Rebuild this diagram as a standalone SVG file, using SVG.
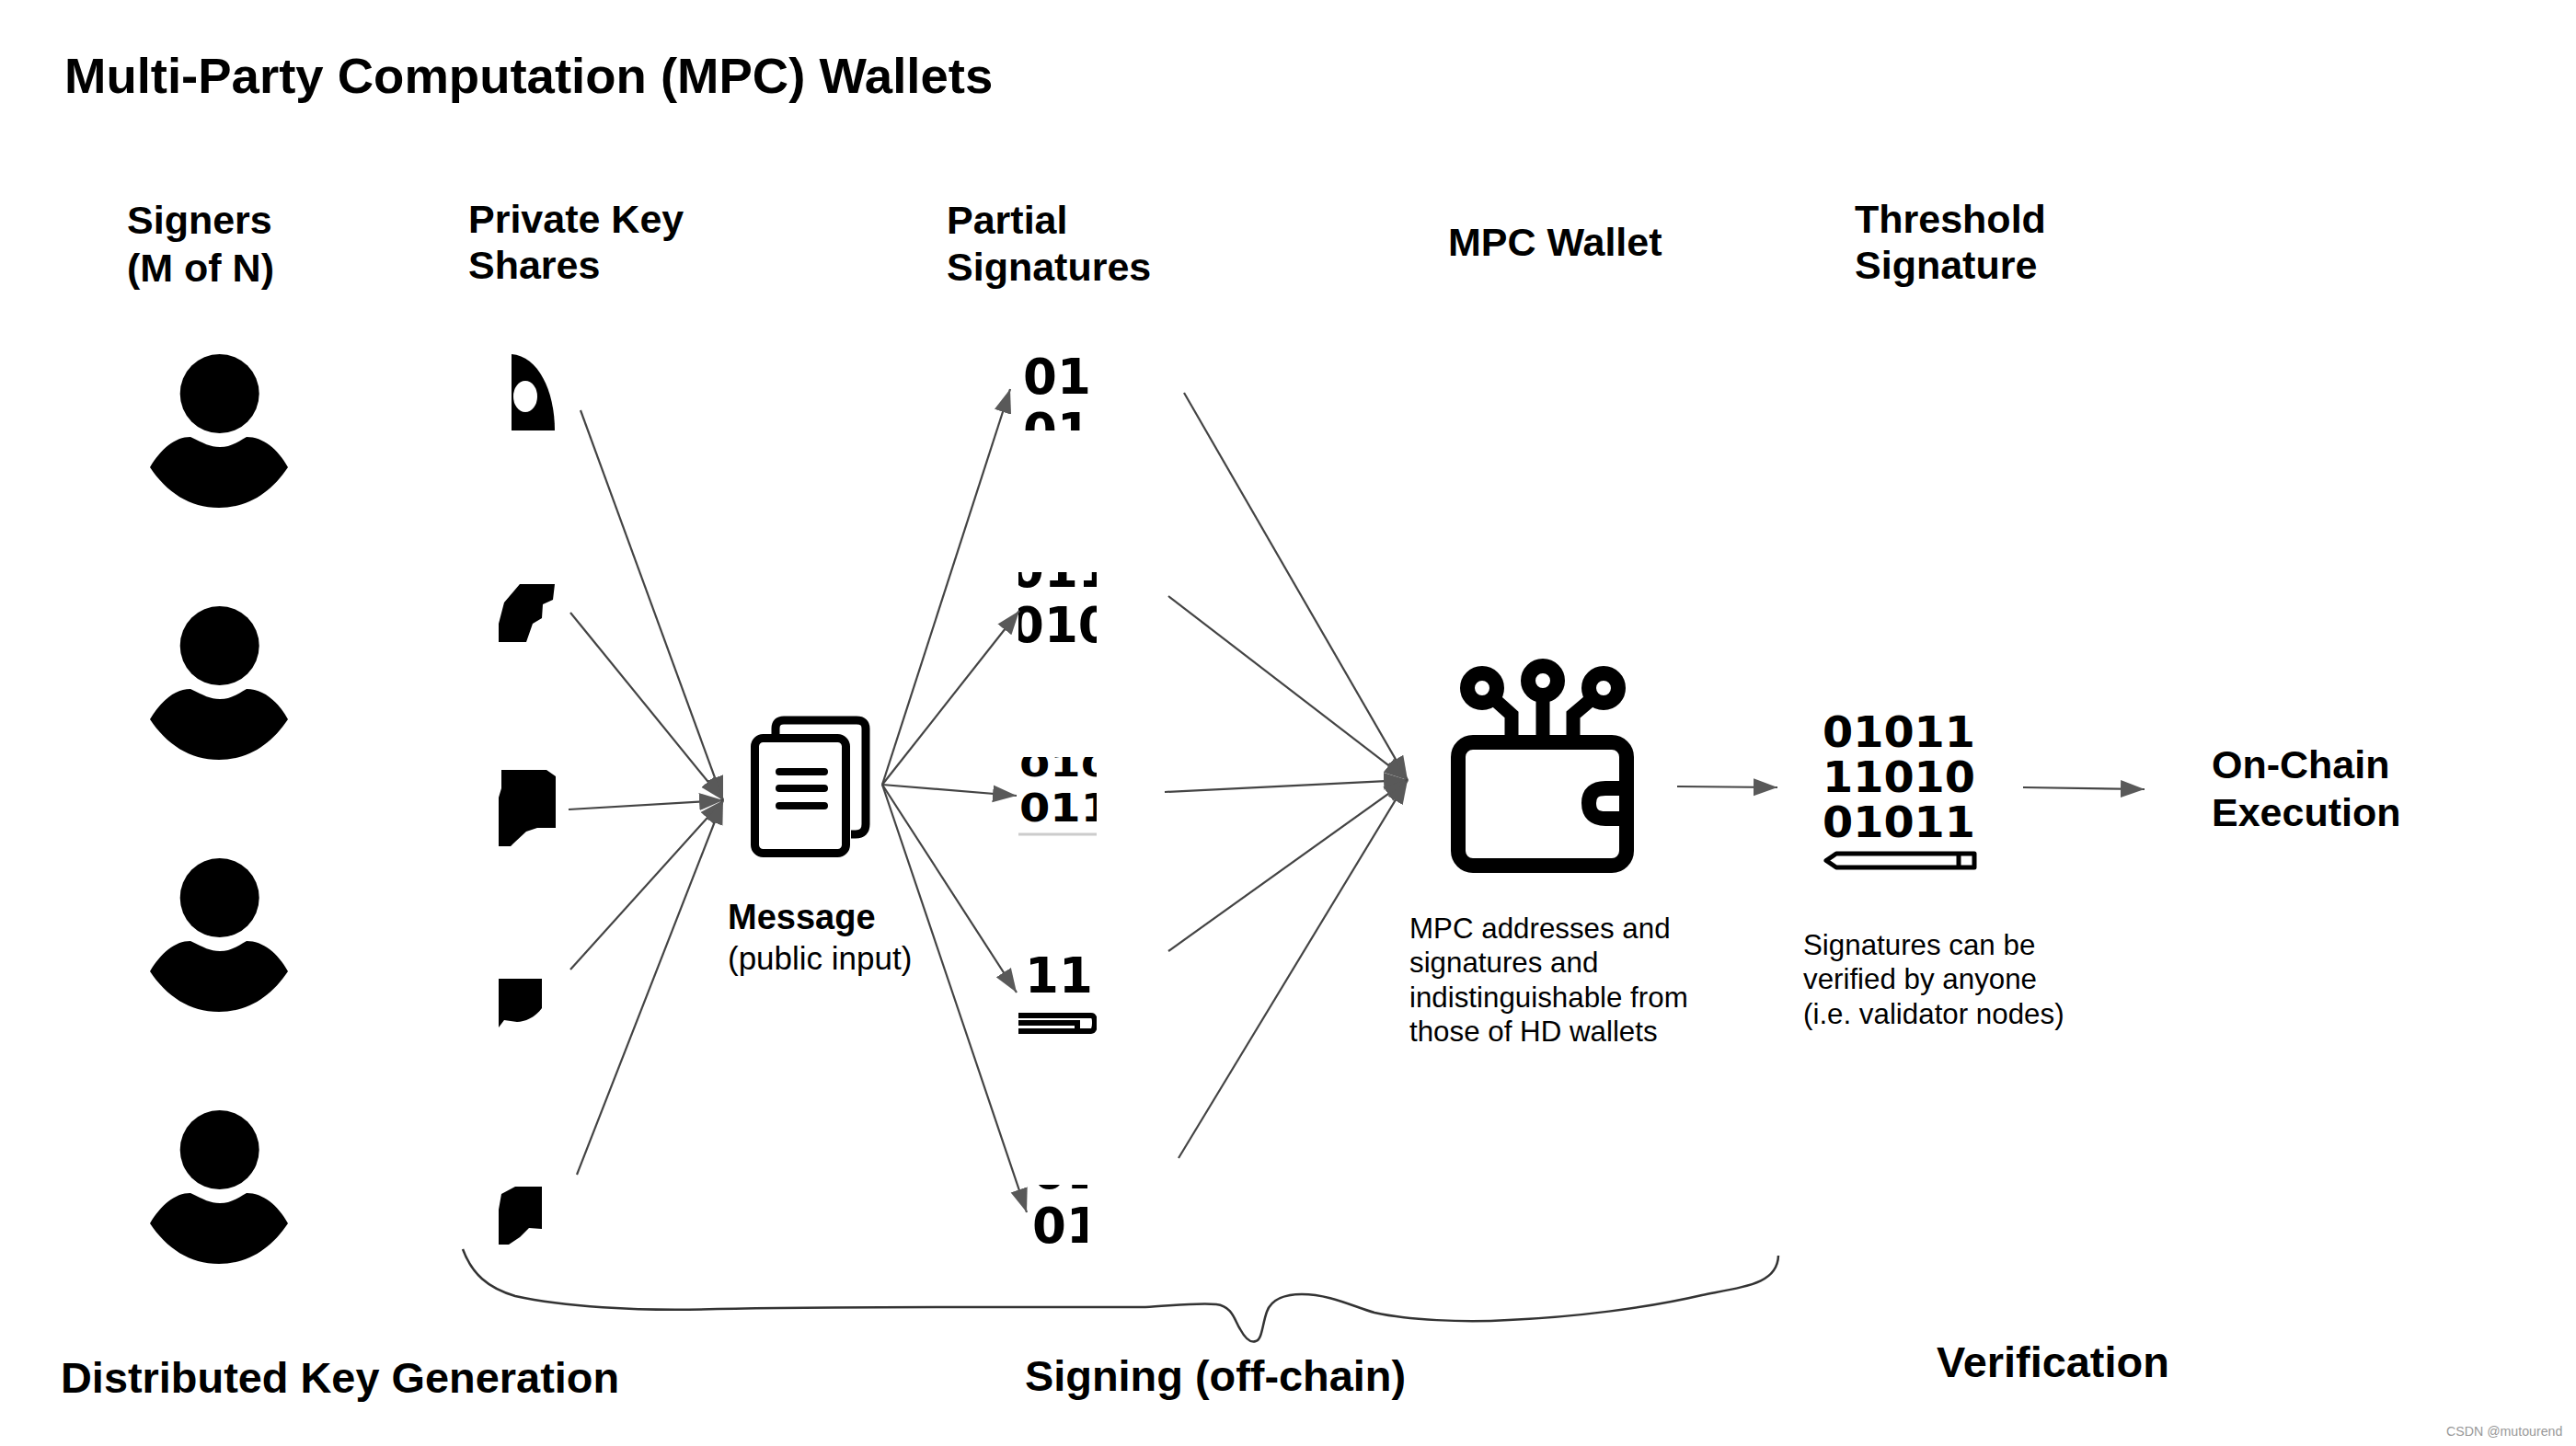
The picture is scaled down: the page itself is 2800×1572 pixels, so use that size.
<svg xmlns="http://www.w3.org/2000/svg" width="2800" height="1572" viewBox="0 0 2800 1572">
<style>
text{font-family:"Liberation Sans",Arial,sans-serif;fill:#000}
.t{font-size:54.500px;font-weight:700}
.h{font-size:43px;font-weight:700}
.f{font-size:46.900px;font-weight:700}
.b{font-size:31.300px}
.d{font-family:"DejaVu Sans",sans-serif;font-size:53px;font-weight:700}
.e{font-family:"DejaVu Sans",sans-serif;font-size:46px;font-weight:700}
.c{fill:none;stroke:#444;stroke-width:2.2;marker-end:url(#ah)}
.ic{fill:none;stroke:#000}
</style>
<defs>
<marker id="ah" markerUnits="userSpaceOnUse" markerWidth="28" markerHeight="20" refX="26" refY="10" orient="auto"><path d="M0,0.5 L26,10 L0,19.500 Z" fill="#595959"/></marker>
<clipPath id="c1"><rect x="1107" y="385" width="77" height="83"/></clipPath>
<clipPath id="c2"><rect x="1107" y="622" width="85" height="79"/></clipPath>
<clipPath id="c3"><rect x="1107" y="823" width="85" height="71"/></clipPath>
<clipPath id="c4"><rect x="1107" y="1040" width="85" height="85"/></clipPath>
<clipPath id="c5"><rect x="1122" y="1288" width="60" height="65"/></clipPath>
<g id="person"><circle cx="238.700" cy="428" r="43"/><path d="M163,508 C175,488 190,475 207,475 C222,482 228,486 239,486 C250,486 256,482 268,475 C286,475 302,488 313,508 C295,535 270,552 238,552 C206,552 181,535 163,508 Z"/></g>
</defs>
<rect width="2800" height="1572" fill="#fff"/>
<text class="t" x="70" y="101">Multi-Party Computation (MPC) Wallets</text>
<g id="headers">
<text class="h" x="138" y="254">Signers</text><text class="h" x="138" y="306">(M of N)</text>
<text class="h" x="509" y="253">Private Key</text><text class="h" x="509" y="303">Shares</text>
<text class="h" x="1029" y="254">Partial</text><text class="h" x="1029" y="305">Signatures</text>
<text class="h" x="1574" y="278">MPC Wallet</text>
<text class="h" x="2016" y="253">Threshold</text><text class="h" x="2016" y="303">Signature</text>
</g>
<g id="signer-1"><use href="#person"/></g>
<g id="signer-2"><use href="#person" y="274"/></g>
<g id="signer-3"><use href="#person" y="548"/></g>
<g id="signer-4"><use href="#person" y="822"/></g>
<g id="share-1"><path d="M556,385 C585,387 603,425 603,468 H556 Z"/><ellipse cx="571" cy="431" rx="13" ry="17" fill="#fff"/></g>
<g id="share-2"><path d="M542,698 H572 L579,678 L589,672 L590,657 L601,652 L603,635 H565 L548,655 L542,678 Z"/></g>
<g id="share-3"><path d="M545,837 H594 L604,844 V900 H584 L572,904 L558,917 L555,920 H542 V867 L545,857 Z"/></g>
<g id="share-4"><path d="M542,1064 H589 V1096 C582,1106 570,1111 562,1111 L548,1109 L542,1117 Z"/></g>
<g id="share-5"><path d="M560,1290 H589 V1336 L575,1335 L565,1345 L553,1353 H542 V1315 L545,1298 Z"/></g>
<g id="message">
<path class="ic" stroke-width="9" d="M843,798 V792 Q843,783 852,783 H931 Q941,783 941,792 V896 Q941,907 930,907 H925"/>
<rect class="ic" stroke-width="9" x="820.500" y="802.500" width="99" height="125" rx="9"/>
<path class="ic" stroke-width="8" stroke-linecap="round" d="M847,839 H896 M847,857 H896 M847,876 H896"/>
<text x="791" y="1010" font-size="38" font-weight="700">Message</text>
<text x="791" y="1054" font-size="35">(public input)</text>
</g>
<g id="partial-1" clip-path="url(#c1)"><text class="d" x="1112" y="428">01</text><text class="d" x="1112" y="487">01</text></g>
<g id="partial-2" clip-path="url(#c2)"><text class="d" x="1098" y="638">011</text><text class="d" x="1098" y="698">010</text></g>
<g id="partial-3"><g clip-path="url(#c3)"><text class="e" style="font-size:36px" x="1108" y="844" textLength="100" lengthAdjust="spacingAndGlyphs">010</text><text class="e" style="font-size:43px" x="1108" y="893" textLength="100" lengthAdjust="spacingAndGlyphs">011</text></g><path d="M1107,907 H1192" stroke="#ccc" stroke-width="3"/></g>
<g id="partial-4"><g clip-path="url(#c4)"><text class="d" x="1114" y="1079">11</text><path d="M1100,1104 H1186 Q1190,1104 1190,1112 Q1190,1121 1186,1121 H1100 M1100,1112 H1171 V1121" fill="none" stroke="#000" stroke-width="6"/></g></g>
<g id="partial-5" clip-path="url(#c5)"><text class="d" x="1122" y="1292">01</text><text class="d" x="1122" y="1351">01</text></g>
<g id="wallet">
<rect class="ic" stroke-width="16" x="1585" y="807" width="183" height="134" rx="16"/>
<path class="ic" stroke-width="16" d="M1768,857 H1745 Q1727,857 1727,873 Q1727,890 1745,890 H1768"/>
<circle class="ic" stroke-width="16" cx="1611" cy="748" r="16"/>
<circle class="ic" stroke-width="16" cx="1677" cy="740" r="16"/>
<circle class="ic" stroke-width="16" cx="1743" cy="748" r="16"/>
<path class="ic" stroke-width="15" d="M1677,756 V800 M1624,760 L1643,777 V800 M1730,760 L1710,777 V800"/>
<text class="b" x="1532" y="1020">MPC addresses and</text><text class="b" x="1532" y="1057">signatures and</text><text class="b" x="1532" y="1095">indistinguishable from</text><text class="b" x="1532" y="1132">those of HD wallets</text>
</g>
<g id="threshold">
<text class="e" x="1981" y="812" textLength="166" lengthAdjust="spacingAndGlyphs">01011</text>
<text class="e" x="1981" y="861" textLength="166" lengthAdjust="spacingAndGlyphs">11010</text>
<text class="e" x="1981" y="910" textLength="166" lengthAdjust="spacingAndGlyphs">01011</text>
<path class="ic" stroke-width="5" stroke-linejoin="round" d="M1996,928 H2146 V943 H1996 L1985,935.500 Z M2129,928 V943"/>
<text class="b" x="1960" y="1038">Signatures can be</text><text class="b" x="1960" y="1075">verified by anyone</text><text class="b" x="1960" y="1113">(i.e. validator nodes)</text>
</g>
<g id="onchain"><text class="h" x="2404" y="846">On-Chain</text><text class="h" x="2404" y="898">Execution</text></g>
<g id="connectors">
<path class="c" d="M631,446 L786,870"/>
<path class="c" d="M620,666 L786,870"/>
<path class="c" d="M618,880 L786,870"/>
<path class="c" d="M620,1054 L786,870"/>
<path class="c" d="M627,1277 L786,870"/>
<path class="c" d="M959,853 L1098,423"/>
<path class="c" d="M959,853 L1108,664"/>
<path class="c" d="M959,853 L1105,865"/>
<path class="c" d="M959,853 L1105,1079"/>
<path class="c" d="M959,853 L1116,1318"/>
<path class="c" d="M1287,427 L1530,848"/>
<path class="c" d="M1270,648 L1530,848"/>
<path class="c" d="M1266,861 L1530,848"/>
<path class="c" d="M1270,1034 L1530,848"/>
<path class="c" d="M1281,1259 L1530,848"/>
<path class="c" d="M1823,855 L1932,856"/>
<path class="c" d="M2199,856 L2331,858"/>
</g>
<g id="brace"><path fill="none" stroke="#333" stroke-width="2.500" d="M503,1358 C513,1385 530,1400 560,1409 C610,1420 690,1426 780,1423 C900,1420 1100,1421 1245,1421 C1270,1420 1300,1416 1322,1418 C1340,1420 1342,1436 1348,1445 C1354,1456 1360,1460 1365,1458 C1372,1456 1372,1440 1377,1426 C1382,1412 1398,1407 1415,1407 C1445,1407 1470,1420 1494,1427 C1530,1435 1590,1438 1640,1435 C1710,1432 1790,1422 1850,1408 C1900,1398 1932,1395 1933,1365"/></g>
<g id="phases">
<text class="f" x="66" y="1514">Distributed Key Generation</text>
<text class="f" x="1114" y="1512">Signing (off-chain)</text>
<text class="f" x="2105" y="1497">Verification</text>
</g>
<text x="2659" y="1561" font-size="14.200" style="fill:#999">CSDN @mutourend</text>
</svg>
